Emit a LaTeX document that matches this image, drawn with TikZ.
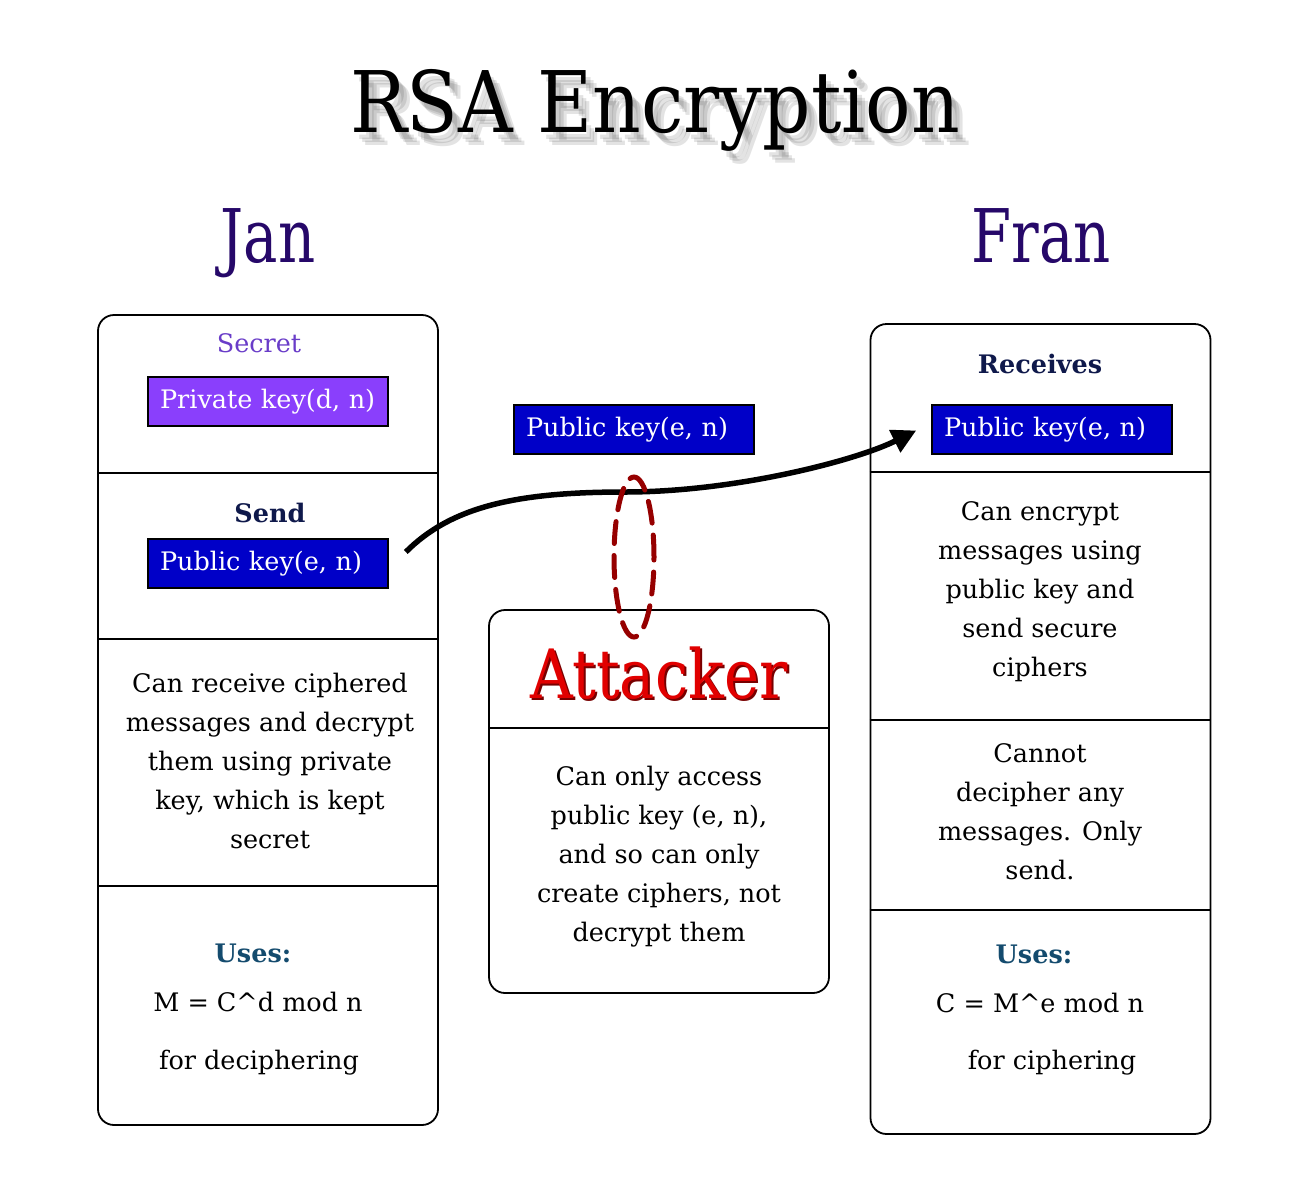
\documentclass[tikz,border=0pt]{standalone}
\usepackage{fontspec}
\setmainfont{DejaVu Serif}
\usetikzlibrary{arrows.meta,shapes.geometric}
\definecolor{namecol}{RGB}{38,8,105}
\definecolor{secretcol}{RGB}{105,60,200}
\definecolor{privfill}{RGB}{138,63,252}
\definecolor{pubfill}{RGB}{0,0,200}
\definecolor{navycol}{RGB}{15,25,75}
\definecolor{usescol}{RGB}{20,75,110}
\definecolor{attred}{RGB}{225,0,0}
\definecolor{attshadow}{RGB}{120,0,0}
\definecolor{ellred}{RGB}{150,0,0}
\newcommand\bfnt{\fontsize{25.5}{39}\selectfont}
\begin{document}
\begin{tikzpicture}[x=1pt,y=-1pt,
  panel/.style={draw, line width=1.8pt, rounded corners=16pt, inner sep=0pt, minimum width=340pt, minimum height=810pt},
  keybox/.style={draw, line width=1.6pt, minimum width=240pt, minimum height=49pt, inner sep=0pt, text width=216pt, align=left, text=white, font=\bfnt},
  txt/.style={font=\bfnt, align=center, inner sep=0pt},
  head/.style={font=\bfnt\bfseries, text=navycol, inner sep=0pt},
  uses/.style={font=\bfnt\bfseries, text=usescol, inner sep=0pt},
  divider/.style={line width=1.5pt},
  titletxt/.style={font=\fontsize{85}{90}\selectfont, inner sep=0pt, anchor=base, xscale=0.89},
  nametxt/.style={font=\fontsize{74}{80}\selectfont, text=namecol, inner sep=0pt, anchor=base, xscale=0.78},
  atttxt/.style={font=\fontsize{68}{72}\selectfont, inner sep=0pt, anchor=base, xscale=0.87}
]
\useasboundingbox (0,0) rectangle (1299,1187);

% title with soft shadow
\foreach \dx/\dy in {5/7,8/10,11/13}{
  \node[titletxt, text=black, opacity=0.11] at (655+\dx,132+\dy) {RSA Encryption};
}
\node[titletxt] (title) at (655,132) {RSA Encryption};

\node[nametxt] (jan) at (268,262) {Jan};
\node[nametxt] (fran) at (1041,262) {Fran};

% Jan panel
\node[panel] (jbox) at (268,720) {};
\draw[divider] (jbox.west |- 0,473) -- (jbox.east |- 0,473);
\draw[divider] (jbox.west |- 0,639) -- (jbox.east |- 0,639);
\draw[divider] (jbox.west |- 0,886) -- (jbox.east |- 0,886);
\node[txt, text=secretcol] (jsecret) at (259,343) {Secret};
\node[keybox, fill=privfill] (jpriv) at (268,401.5) {Private key(d, n)};
\node[head] (jsend) at (270,513) {Send};
\node[keybox, fill=pubfill] (jpub) at (268,563.5) {Public key(e, n)};
\node[txt] (jdesc) at (270,761) {Can receive ciphered\\messages and decrypt\\them using private\\key, which is kept\\secret};
\node[uses] (juses) at (253,953) {Uses:};
\node[txt] (jform) at (258,1002) {M = C\textasciicircum d mod n};
\node[txt] (jfor) at (259,1063) {for deciphering};

% middle
\node[keybox, fill=pubfill] (mpub) at (634,429.5) {Public key(e, n)};
\node[panel, minimum height=383pt] (att) at (659,801.5) {};
\draw[divider] (att.west |- 0,728) -- (att.east |- 0,728);
\node[atttxt, text=attshadow] at (661,700) {Attacker};
\node[atttxt, text=attred] (atttitle) at (659,698) {Attacker};
\node[txt] (attdesc) at (659,857) {Can only access\\public key (e, n),\\and so can only\\create ciphers, not\\decrypt them};

% Fran panel
\node[panel] (fbox) at (1040.5,729) {};
\draw[divider] (fbox.west |- 0,472) -- (fbox.east |- 0,472);
\draw[divider] (fbox.west |- 0,720) -- (fbox.east |- 0,720);
\draw[divider] (fbox.west |- 0,910) -- (fbox.east |- 0,910);
\node[head] (frec) at (1040,364) {Receives};
\node[keybox, fill=pubfill] (fpub) at (1052,429.5) {Public key(e, n)};
\node[txt] (fdesc) at (1040,591.5) {Can encrypt\\messages using\\public key and\\send secure\\ciphers};
\node[txt] (fdesc2) at (1040,811.5) {Cannot\\decipher any\\messages. Only\\send.};
\node[uses] (fuses) at (1034,954) {Uses:};
\node[txt] (fform) at (1040,1003) {C = M\textasciicircum e mod n};
\node[txt] (ffor) at (1052,1063) {for ciphering};

% arrow
\coordinate (arrmid) at (625,492);
\draw[line width=5.5pt, -{Triangle[length=24pt,width=24pt]}]
  ([xshift=17pt,yshift=11.5pt]jpub.east) .. controls +(45,-45) and +(-110,0) .. (arrmid)
  .. controls +(110,0) and +(-60,30) .. ([xshift=-15pt,yshift=-1pt]fpub.west);

% dashed ring
\node[draw=ellred, ellipse, line width=5pt, dash pattern=on 22pt off 12pt, line cap=round, minimum width=40pt, minimum height=160pt, inner sep=0pt] (ring) at (634,557) {};
\end{tikzpicture}
\end{document}
